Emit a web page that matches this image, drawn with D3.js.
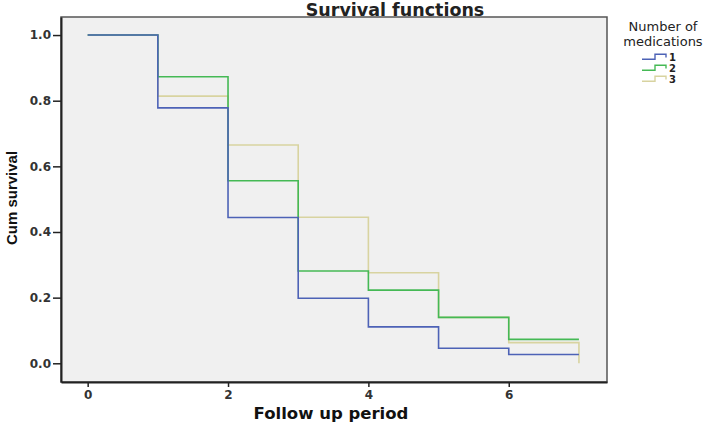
<!DOCTYPE html>
<html>
<head>
<meta charset="utf-8">
<script src="https://cdn.jsdelivr.net/npm/d3@7"></script>
<style>
  body { margin: 0; background: #fff; }
  svg { display: block; }
</style>
</head>
<body>
<svg id="chart" width="709" height="423"></svg>
<script>
const times = [0, 1, 2, 3, 4, 5, 6, 7];
const groupLabels = ["1", "2", "3"];
const survival1 = [1.0, 0.778, 0.444, 0.198, 0.111, 0.046, 0.027, 0.027];
const survival2 = [1.0, 0.873, 0.556, 0.281, 0.223, 0.140, 0.073, 0.073];
const survival3 = [1.0, 0.814, 0.665, 0.445, 0.276, 0.140, 0.063, 0.0];
const xTicks = [0, 2, 4, 6];
const yTicks = [0, 0.2, 0.4, 0.6, 0.8, 1.0];

const colors = ["#4d62b6", "#45b955", "#d8d3a0"];
const series = [survival1, survival2, survival3];

const svg = d3.select("#chart");

const x = d3.scaleLinear().domain([-0.38, 7.4]).range([61, 607]);
const y = d3.scaleLinear().domain([-0.057, 1.055]).range([382, 17]);

// plot background + frame
svg.append("rect")
  .attr("x", x.range()[0])
  .attr("y", y.range()[1])
  .attr("width", x.range()[1] - x.range()[0])
  .attr("height", y.range()[0] - y.range()[1])
  .attr("fill", "#f0f0f0")
  .attr("stroke", "#555")
  .attr("stroke-width", 1.5);

const stepLine = d3.line()
  .x((d) => x(d[0]))
  .y((d) => y(d[1]))
  .curve(d3.curveStepAfter);

// draw order: 3, 2, 1 (blue sits on top)
[2, 1, 0].forEach((i) => {
  svg.append("path")
    .datum(times.map((t, j) => [t, series[i][j]]))
    .attr("fill", "none")
    .attr("stroke", colors[i])
    .attr("stroke-width", 1.6)
    .attr("d", stepLine);
});

// axes
const xAxis = svg.append("g")
  .attr("transform", `translate(0,${y.range()[0]})`)
  .call(d3.axisBottom(x).tickValues(xTicks).tickFormat(d3.format("d")).tickSize(5).tickSizeOuter(0));

const yAxis = svg.append("g")
  .attr("transform", `translate(${x.range()[0]},0)`)
  .call(d3.axisLeft(y).tickValues(yTicks).tickFormat(d3.format(".1f")).tickSize(8).tickSizeOuter(0));

[xAxis, yAxis].forEach((g) => {
  g.select(".domain").attr("stroke", "#222").attr("stroke-width", 2);
  g.selectAll(".tick line").attr("stroke", "#222").attr("stroke-width", 1.5);
  g.selectAll(".tick text")
    .attr("fill", "#333")
    .style("font-family", "DejaVu Sans")
    .style("font-weight", "bold")
    .style("font-size", "12px");
});
xAxis.selectAll(".tick text").attr("y", 8);
yAxis.selectAll(".tick text").attr("x", -10);

// title
svg.append("text")
  .attr("x", 395)
  .attr("y", 16)
  .attr("text-anchor", "middle")
  .style("font-family", "DejaVu Sans")
  .style("font-weight", "bold")
  .style("font-size", "17.5px")
  .attr("fill", "#222")
  .text("Survival functions");

// axis titles
svg.append("text")
  .attr("x", 331)
  .attr("y", 419)
  .attr("text-anchor", "middle")
  .style("font-family", "DejaVu Sans")
  .style("font-weight", "bold")
  .style("font-size", "16.5px")
  .attr("fill", "#111")
  .text("Follow up period");

svg.append("text")
  .attr("transform", "translate(17,198) rotate(-90)")
  .attr("text-anchor", "middle")
  .style("font-family", "Liberation Sans")
  .style("font-weight", "bold")
  .style("font-size", "15px")
  .attr("fill", "#111")
  .text("Cum survival");

// legend
const legend = svg.append("g");
legend.append("text")
  .attr("x", 663)
  .attr("y", 31)
  .attr("text-anchor", "middle")
  .style("font-family", "DejaVu Sans")
  .style("font-size", "13px")
  .attr("fill", "#222")
  .text("Number of");
legend.append("text")
  .attr("x", 663)
  .attr("y", 46)
  .attr("text-anchor", "middle")
  .style("font-family", "DejaVu Sans")
  .style("font-size", "13px")
  .attr("fill", "#222")
  .text("medications");

const legendItem = legend.selectAll(".legend-item")
  .data(groupLabels)
  .enter()
  .append("g")
  .attr("class", "legend-item")
  .attr("transform", (d, i) => `translate(642,${61 + i * 11})`);

legendItem.append("path")
  .attr("d", "M0,-1.7 H13 V-6.7 H24 V-3.5")
  .attr("fill", "none")
  .attr("stroke", (d, i) => colors[i])
  .attr("stroke-width", 1.4);

legendItem.append("text")
  .attr("x", 27)
  .attr("y", 0)
  .style("font-family", "DejaVu Sans")
  .style("font-weight", "bold")
  .style("font-size", "10px")
  .attr("fill", "#222")
  .text((d) => d);
</script>
</body>
</html>
